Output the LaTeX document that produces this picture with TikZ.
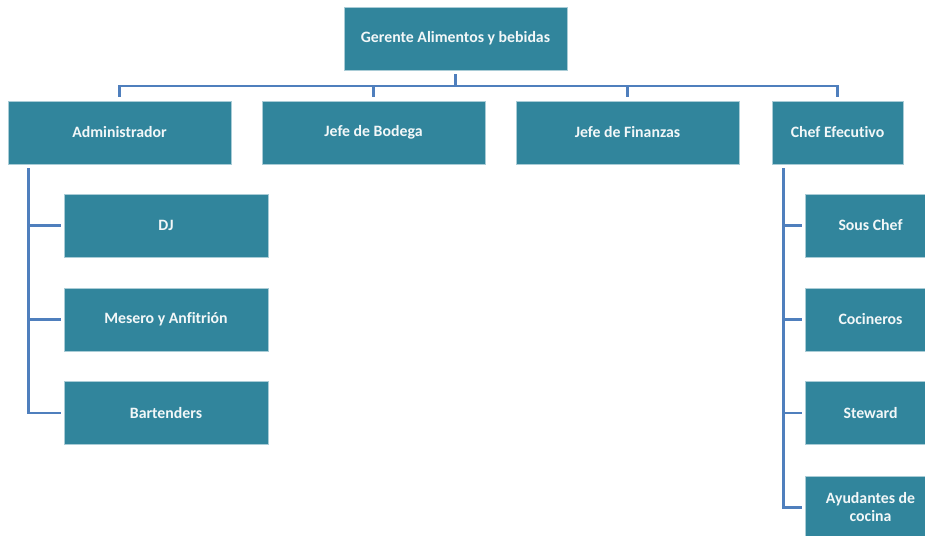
\documentclass[tikz,border=0pt]{standalone}
\usepackage{fontspec}
\setmainfont{Carlito}[Ligatures=NoCommon]
\usetikzlibrary{calc}
\definecolor{boxfill}{HTML}{31859C}
\definecolor{boxedge}{HTML}{A9CCD6}
\definecolor{boxtext}{HTML}{F2F7F8}
\definecolor{linkblue}{HTML}{4F7FBD}
\tikzset{
  unit/.style={rectangle, fill=boxfill, draw=boxedge, line width=0.6pt,
    minimum width=223pt, minimum height=63pt, inner sep=2pt,
    text=boxtext, font=\fontsize{15.8}{18}\selectfont\bfseries, align=center},
  narrow/.style={unit, minimum width=131pt},
  sub/.style={unit, minimum width=204pt},
  link/.style={draw=linkblue, line width=2.6pt, line join=miter}
}
\begin{document}
\begin{tikzpicture}[x=1pt,y=-1pt]
\useasboundingbox (0,0) rectangle (925,535);
\clip (0,0) rectangle (925,535);
\fill[white] (0,0) rectangle (925,535);

% head of the department
\node[unit] (gerente) at (455.5,38.5) {Gerente Alimentos y bebidas};

% second level
\node[unit] (admin) at (119.5,132.5) {Administrador};
\node[unit] (bodega) at (373.5,132.5) {Jefe de Bodega};
\node[unit] (finanzas) at (627.5,132.5) {Jefe de Finanzas};
\node[narrow] (chef) at (837.5,132.5) {Chef Efecutivo};

% staff under the administrator
\node[sub] (dj) at (166,225.5) {DJ};
\node[sub] (mesero) at (166,319.5) {Mesero y Anfitrión};
\node[sub] (bar) at (166,413) {Bartenders};

% kitchen staff
\node[narrow] (sous) at (870.5,225.5) {Sous Chef};
\node[narrow] (cocineros) at (870.5,319.5) {Cocineros};
\node[narrow] (steward) at (870.5,413) {Steward};
\node[narrow] (ayudantes) at (870.5,507.5) {Ayudantes de\\cocina};

% bus below the head
\coordinate (bus) at (455.5,86);
\draw[link] ([yshift=-4pt]gerente.south) -- (bus);
\foreach \c in {admin,bodega,finanzas,chef}
  \draw[link] (bus) -| ([yshift=4pt]\c.north);

% left branch
\coordinate (lefttop) at ($(admin.south west)+(21,4)$);
\foreach \c in {dj,mesero,bar}
  \draw[link] (lefttop) |- ([xshift=-3pt]\c.west);

% right branch
\coordinate (righttop) at ($(chef.south west)+(11.5,4)$);
\foreach \c in {sous,cocineros,steward,ayudantes}
  \draw[link] (righttop) |- ([xshift=-3pt]\c.west);
\end{tikzpicture}
\end{document}
